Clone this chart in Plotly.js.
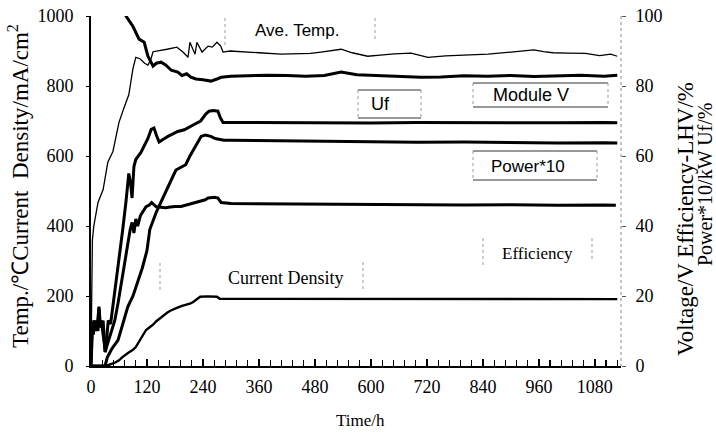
<!DOCTYPE html>
<html><head><meta charset="utf-8">
<script src="https://cdn.plot.ly/plotly-3.0.1.min.js"></script>
<style>html,body{margin:0;padding:0;background:#fff;}#chart{width:716px;height:437px;}</style>
</head><body><div id="chart"></div>
<script>
// ---- data ----
const tempT = [0, 1, 3, 6, 15, 26, 36, 47, 60, 70, 81, 90, 96, 105, 115, 122, 128, 133, 145, 163, 184, 197, 208, 212, 223, 227, 238, 251, 260, 270, 278, 283, 298, 330, 360, 407, 450, 470, 493, 515, 536, 560, 593, 620, 650, 686, 722, 760, 800, 851, 900, 930, 949, 970, 990, 1022, 1060, 1090, 1114, 1128];
const tempV = [30, 250, 360, 400, 467, 504, 582, 613, 696, 735, 775, 850, 882, 878, 865, 860, 875, 898, 900, 905, 911, 897, 882, 925, 891, 925, 897, 914, 911, 925, 914, 897, 900, 898, 895, 891, 891, 893, 897, 900, 905, 895, 885, 888, 892, 894, 882, 886, 889, 891, 897, 901, 903, 898, 895, 894, 893, 887, 891, 885];

const cdT = [0, 30, 38, 45, 52, 60, 68, 80, 90, 96, 105, 112, 118, 125, 133, 140, 148, 155, 163, 170, 177, 184, 195, 206, 212, 219, 226, 234, 250, 262, 270, 276, 400, 600, 800, 1000, 1128];
const cdV = [0, 0, 3, 6, 10, 16, 26, 38, 46, 54, 75, 90, 103, 110, 118, 128, 137, 144, 152, 158, 163, 166, 172, 175, 178, 183, 190, 198, 199, 199, 198, 192, 192, 192, 191, 191, 191];

const voltT = [68, 75, 90, 103, 114, 122, 133, 140, 150, 160, 172, 186, 195, 205, 214, 225, 240, 257, 270, 279, 300, 340, 380, 420, 460, 500, 536, 570, 610, 650, 707, 750, 800, 850, 900, 950, 1000, 1050, 1100, 1128];
const voltV = [103, 100, 97, 93.4, 92.5, 88.5, 85.7, 86.5, 86.8, 86, 84.5, 84, 83, 83.5, 82.5, 82, 81.8, 81.4, 82, 82.5, 82.8, 83, 83.1, 83, 82.8, 83, 84, 83.2, 83, 82.8, 82.5, 82.6, 82.9, 82.8, 83, 82.7, 82.9, 83.1, 82.8, 83.1];

const ufT = [0, 2, 5, 8, 11, 14, 17, 19, 22, 25, 28, 31, 34, 37, 42, 48, 55, 63, 68, 75, 81, 85, 88, 92, 96, 107, 115, 122, 129, 135, 140, 146, 155, 165, 186, 200, 221, 235, 246, 253, 262, 272, 277, 283, 300, 400, 500, 600, 700, 800, 900, 1000, 1100, 1128];
const ufV = [0, 12, 9, 13, 10, 12.5, 16.5, 11, 13, 9, 7, 4, 9, 13, 12, 18, 25, 33, 39, 47, 55, 52, 48, 57, 59, 61, 63, 65, 67.6, 68, 66, 64, 64.8, 65.6, 67, 67.5, 69, 70, 72, 72.8, 73, 72.8, 71, 69.6, 69.6, 69.5, 69.6, 69.4, 69.6, 69.5, 69.6, 69.5, 69.6, 69.5];

const powT = [0, 30, 35, 45, 58, 70, 79, 90, 100, 110, 120, 126, 140, 150, 155, 165, 175, 182, 195, 203, 212, 221, 230, 236, 245, 257, 266, 274, 285, 300, 400, 500, 600, 700, 800, 900, 1000, 1100, 1128];
const powV = [0, 0, 2.5, 5, 7.4, 13, 17, 20, 24, 28, 33, 39, 44, 47, 48.4, 51.3, 54, 56, 57, 57.5, 60, 62, 64, 65.6, 66, 65.6, 65, 64.8, 64.5, 64.5, 64.3, 64.2, 64, 63.9, 64, 63.8, 63.7, 63.8, 63.7];

const effT = [0, 3, 6, 9, 12, 15, 17, 20, 23, 26, 30, 35, 42, 51, 58, 66, 72, 77, 84, 88, 92, 96, 100, 106, 111, 118, 125, 130, 140, 152, 160, 170, 180, 193, 205, 215, 221, 235, 245, 251, 265, 272, 279, 300, 400, 500, 600, 700, 800, 900, 1000, 1100, 1125];
const effV = [0, 10, 13, 11, 12, 10, 17, 12, 11, 13, 4, 6, 9, 13, 18, 24.6, 29, 33, 39, 41, 38, 42, 40, 43, 44, 45.5, 46, 46.7, 45.5, 45.3, 45.2, 45.4, 45.6, 45.6, 46, 46.5, 46.7, 47, 47.5, 48, 48.2, 48, 46.7, 46.4, 46.3, 46.2, 46.1, 46.2, 46, 46.1, 45.9, 46, 45.9];

const xTicks = [0, 120, 240, 360, 480, 600, 720, 840, 960, 1080];
const yLeftTicks = [0, 200, 400, 600, 800, 1000];
const yRightTicks = [0, 20, 40, 60, 80, 100];

// ---- layout helpers ----
const W = 716, H = 437, L = 91, R = 95, T = 16, B = 71;
const PW = W - L - R, PH = H - T - B;
const XR = [0, 1136];
const px = v => (v - L) / PW;
const py = v => (H - B - v) / PH;
const serif = "Liberation Serif, Times New Roman, serif";
const sans = "Liberation Sans, Arial, sans-serif";

function line(x0, y0, x1, y1, color, dash, width) {
  return {type: 'line', xref: 'paper', yref: 'paper', x0: px(x0), y0: py(y0), x1: px(x1), y1: py(y1),
    line: {color: color, width: width || 1, dash: dash || 'solid'}};
}
function label(text, x, y, size, family, extra) {
  return Object.assign({text: text, xref: 'paper', yref: 'paper', x: px(x), y: py(y), showarrow: false,
    xanchor: 'center', yanchor: 'middle', font: {size: size, family: family, color: '#000'}}, extra || {});
}

const mk = (x, y, w, xa, ya) => ({x: x, y: y, xaxis: xa, yaxis: ya, type: 'scatter', mode: 'lines',
  line: {color: '#000', width: w}, hoverinfo: 'skip', showlegend: false});

const data = [
  mk(tempT, tempV, 1.3, 'x2', 'y'),
  mk(cdT, cdV, 2.4, 'x', 'y'),
  mk(voltT, voltV, 3, 'x', 'y2'),
  mk(ufT, ufV, 3, 'x', 'y2'),
  mk(powT, powV, 3, 'x', 'y2'),
  mk(effT, effV, 3, 'x', 'y2')
];

const lite = '#9a9a9a';
const shapes = [
  line(621, 16, 621, 366, '#888', 'dot', 1),
  // Ave. Temp.
  line(225, 18, 225, 45, lite, 'dot'), line(375, 18, 375, 42, lite, 'dot'),
  // Uf
  line(358, 90, 421, 90, '#333'), line(358, 118, 421, 118, '#333'),
  line(358, 90, 358, 118, lite, 'dot'), line(421, 90, 421, 118, lite, 'dot'),
  // Module V
  line(473, 83, 608, 83, '#333'), line(473, 107, 608, 107, '#333'),
  line(473, 83, 473, 107, lite, 'dot'), line(608, 83, 608, 107, lite, 'dot'),
  // Power*10
  line(473, 151, 597, 151, '#333'), line(473, 180, 597, 180, '#333'),
  line(473, 151, 473, 180, lite, 'dot'), line(597, 151, 597, 180, lite, 'dot'),
  // Efficiency
  line(483, 238, 483, 268, lite, 'dot'), line(592, 238, 592, 262, lite, 'dot'),
  // Current Density
  line(160, 263, 160, 292, lite, 'dot'), line(363, 262, 363, 290, lite, 'dot')
];

const annotations = [
  label('Ave. Temp.', 297, 30, 17, sans),
  label('Uf', 380, 104, 18, sans),
  label('Module V', 531, 95, 18, sans),
  label('Power*10', 528, 166, 17, sans),
  label('Efficiency', 537, 253, 17, serif),
  label('Current Density', 285, 278, 18, serif),
  label('Temp./℃Current  Density/mA/cm<sup>2</sup>', 18, 186, 23, serif, {textangle: -90}),
  label('Voltage/V Efficiency-LHV/%', 685, 219, 23, serif, {textangle: -90}),
  label('Power*10/kW Uf/%', 705, 184, 20, serif, {textangle: -90}),
  label('Time/h', 360, 421, 17, serif)
];

const layout = {
  width: W, height: H,
  margin: {l: L, r: R, t: T, b: B, pad: 0},
  paper_bgcolor: '#fff', plot_bgcolor: '#fff',
  showlegend: false,
  // axis carrying the tick marks
  xaxis: {range: XR, tickmode: 'linear', tick0: 0, dtick: 120, ticks: 'inside', ticklen: 7,
    tickcolor: '#000', tickwidth: 1.5, showticklabels: false,
    minor: {tickmode: 'linear', tick0: 0, dtick: 24, ticks: 'inside', ticklen: 6, tickwidth: 1.2, tickcolor: '#000'},
    showline: true, linecolor: '#000', linewidth: 2, showgrid: false, zeroline: false, fixedrange: true},
  // twin axis carrying the tick labels
  xaxis2: {overlaying: 'x', anchor: 'y', side: 'bottom', range: XR, tickvals: xTicks, ticktext: xTicks.map(String),
    ticks: '', showline: false, showgrid: false, zeroline: false,
    tickfont: {size: 18, family: serif, color: '#000'}, ticklabelstandoff: 8, fixedrange: true},
  yaxis: {range: [0, 1000], tickvals: yLeftTicks, ticktext: yLeftTicks.map(String), ticks: 'outside', ticklen: 3,
    tickcolor: '#000', showline: true, linecolor: '#000', linewidth: 2, showgrid: false, zeroline: false,
    tickfont: {size: 18, family: serif, color: '#000'}, ticklabelstandoff: 9, fixedrange: true},
  yaxis2: {overlaying: 'y', side: 'right', anchor: 'x', range: [0, 100], tickvals: yRightTicks,
    ticktext: yRightTicks.map(String), ticks: 'outside', ticklen: 4, tickcolor: '#555',
    showline: false, showgrid: false, zeroline: false,
    tickfont: {size: 18, family: serif, color: '#000'}, ticklabelstandoff: 6, fixedrange: true},
  shapes: shapes,
  annotations: annotations
};

Plotly.newPlot('chart', data, layout, {staticPlot: true, displayModeBar: false});
</script>
</body></html>
